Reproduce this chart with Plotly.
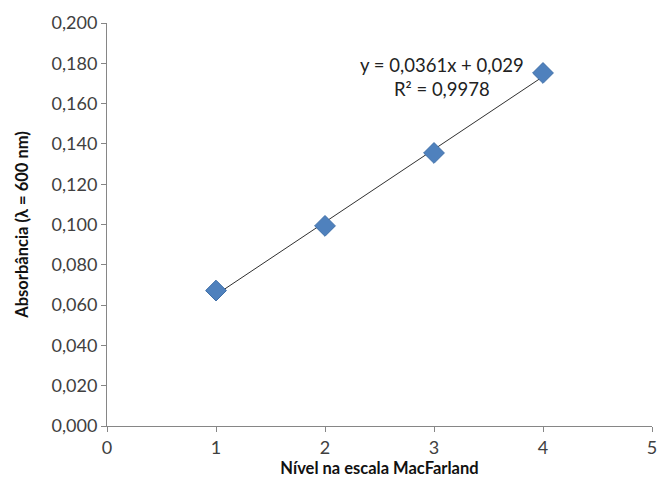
import plotly.graph_objects as go

# MacFarland calibration: absorbance at 600 nm per turbidity level
niveis = [1, 2, 3, 4]
absorbancia = [0.0672, 0.0993, 0.1355, 0.1752]

# Linear trendline coefficients
inclinacao = 0.0361
intercepto = 0.029
r2 = 0.9978

x_linha = [min(niveis), max(niveis)]
y_linha = [inclinacao * x + intercepto for x in x_linha]

fig = go.Figure()

fig.add_trace(go.Scatter(
    x=x_linha, y=y_linha, mode="lines",
    line=dict(color="#303030", width=1),
    hoverinfo="skip", showlegend=False,
))

fig.add_trace(go.Scatter(
    x=niveis, y=absorbancia, mode="markers",
    marker=dict(symbol="diamond", size=16, color="#4F81BD",
                line=dict(color="#3F6FA8", width=1)),
    showlegend=False,
))

fig.add_annotation(
    x=3.07, y=0.1732, xref="x", yref="y",
    text=f"y = {inclinacao:.4f}x + {intercepto:.3f}".replace(".", ",")
         + "<br>" + f"R² = {r2:.4f}".replace(".", ","),
    showarrow=False, align="center",
    font=dict(family="Lato, Open Sans, sans-serif", size=18.5, color="#222222"),
)

axis_font = dict(family="Lato, Open Sans, sans-serif", size=18, color="#404040")
title_font = dict(family="Lato, Open Sans, sans-serif", size=16.5, color="#111111")

fig.update_layout(
    width=664, height=492,
    margin=dict(l=107, r=7, t=23, b=66),
    paper_bgcolor="white", plot_bgcolor="white",
    separators=",.",
    xaxis=dict(
        range=[0, 5], dtick=1, tick0=0,
        showgrid=False, zeroline=False,
        showline=True, linecolor="#868686", linewidth=1,
        ticks="outside", ticklen=5, tickcolor="#868686",
        tickfont=axis_font,
        title=dict(text="<b>Nível na escala MacFarland</b>", font=title_font, standoff=4),
    ),
    yaxis=dict(
        range=[0, 0.2], dtick=0.02, tick0=0, tickformat=".3f",
        showgrid=False, zeroline=False,
        showline=True, linecolor="#868686", linewidth=1,
        ticks="outside", ticklen=5, tickcolor="#868686",
        tickfont=axis_font,
        title=dict(text="<b>Absorbância (λ = 600 nm)</b>", font=title_font, standoff=18),
    ),
)

fig.write_html("out.html")
